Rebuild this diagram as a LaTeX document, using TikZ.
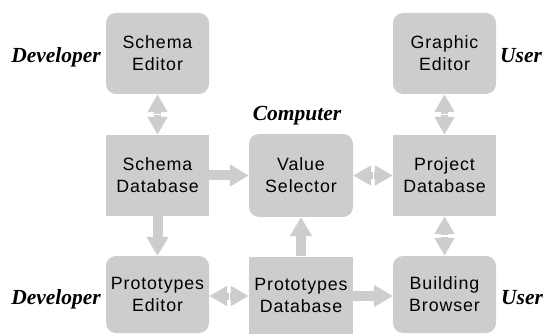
\documentclass[tikz,border=0pt]{standalone}
\usepackage{fontspec}
\setmainfont{Liberation Sans}[LetterSpace=5]
\newfontfamily\labfont{Liberation Serif}
\usetikzlibrary{arrows.meta}
\definecolor{boxgray}{RGB}{205,205,205}
\begin{document}
\begin{tikzpicture}[x=1pt,y=-1pt,
  sqbox/.style={fill=boxgray,draw=none,minimum width=103pt,minimum height=81pt,inner sep=0pt,align=center,
    font=\fontsize{17.8}{22}\selectfont,text=black},
  rbox/.style={sqbox,rounded corners=10pt},
  arr/.style={draw=boxgray,line width=10pt,-{Triangle[width=21pt,length=19pt]}},
  darr/.style={draw=boxgray,line width=7pt,-{Triangle[width=19pt,length=18pt]}},
  lab/.style={font=\labfont\fontsize{21.5}{22}\selectfont\bfseries\itshape,inner sep=0pt}]
\useasboundingbox (0,0) rectangle (544,334);
\node[rbox] (SE) at (157.5,53.5) {Schema\\Editor};
\node[sqbox] (SD) at (157.5,175.5) {Schema\\Database};
\node[rbox,minimum height=77pt] (PE) at (157.5,294.5) {Prototypes\\Editor};
\node[rbox,minimum width=104pt,minimum height=83pt] (VS) at (301,175.5) {Value\\Selector};
\node[sqbox,minimum width=104pt,minimum height=77pt] (PD) at (301,295) {Prototypes\\Database};
\node[rbox] (GE) at (444.5,53.5) {Graphic\\Editor};
\node[sqbox] (PJ) at (444.5,175.5) {Project\\Database};
\node[rbox,minimum height=77pt] (BB) at (444.5,294.5) {Building\\Browser};
% labels
\node[lab,anchor=base east] (l1) at (101,63) {Developer};
\node[lab,anchor=base west] (l2) at (500,63) {User};
\node[lab,anchor=base] (l3) at (297,121) {Computer};
\node[lab,anchor=base east] (l4) at (101,304) {Developer};
\node[lab,anchor=base west] (l5) at (501,304) {User};
% mid points for double arrows
\coordinate (m1a) at (157.5,114);
\coordinate (m1b) at (157.5,115.5);
\coordinate (m2a) at (444.5,114);
\coordinate (m2b) at (444.5,115.5);
\coordinate (m3a) at (444.5,235.5);
\coordinate (m3b) at (444.5,237);
\coordinate (m4a) at (372.5,175.5);
\coordinate (m4b) at (374,175.5);
\coordinate (m5a) at (228.5,296);
\coordinate (m5b) at (230,296);
% single arrows
\draw[arr] (SD.east) -- (VS.west);
\draw[arr] (SD.south) -- (PE.north);
\draw[arr] (PD.north) -- (VS.south);
\draw[arr] (PD.east |- m5a) -- (BB.west |- m5a);
% double arrows
\draw[darr] (m1a) -- (SE.south);
\draw[darr] (m1b) -- (SD.north);
\draw[darr] (m2a) -- (GE.south);
\draw[darr] (m2b) -- (PJ.north);
\draw[darr] (m3a) -- (PJ.south);
\draw[darr] (m3b) -- (BB.north);
\draw[darr] (m4a) -- (VS.east);
\draw[darr] (m4b) -- (PJ.west);
\draw[darr] (m5a) -- (PE.east |- m5a);
\draw[darr] (m5b) -- (PD.west |- m5b);
\end{tikzpicture}
\end{document}
